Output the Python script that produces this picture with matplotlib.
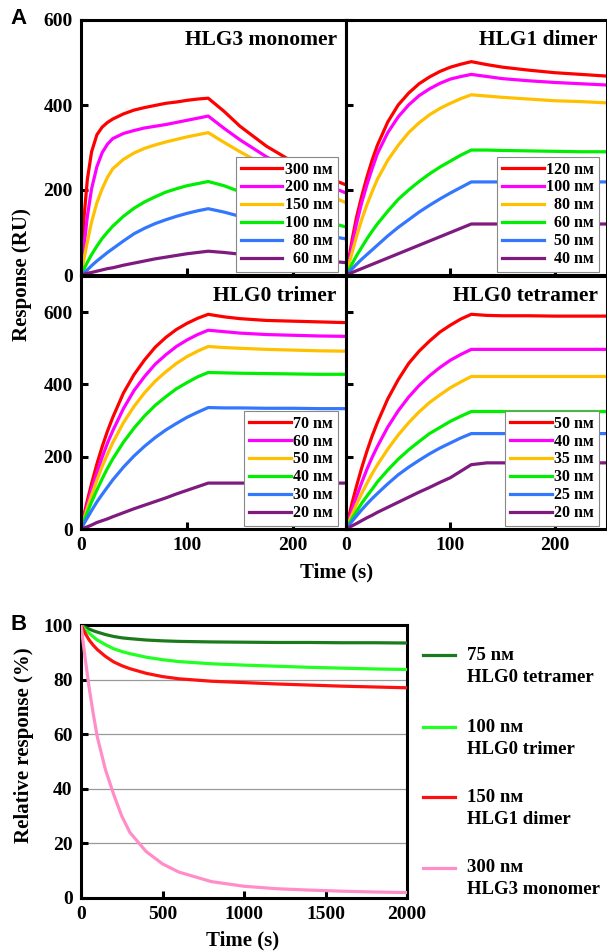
import matplotlib
matplotlib.use("Agg")
import matplotlib.pyplot as plt
from matplotlib.lines import Line2D

plt.rcParams['font.family'] = ['Liberation Serif', 'DejaVu Serif']
plt.rcParams['font.weight'] = 'bold'

# ---- panel A data: time grid (s) and responses (RU) ----
t_a = [0, 3, 6, 10, 15, 20, 25, 30, 40, 50, 60, 70, 80, 90, 100, 110, 120,
       135, 150, 175, 200, 225, 250]

colors_a = ['#ff0000', '#ff00ff', '#ffc000', '#00ee00', '#3377ff', '#7f1a7f']

hlg3_conc = ['300', '200', '150', '100', '  80', '  60']
hlg3 = [
    [0, 140, 225, 290, 330, 348, 359, 367, 379, 388, 394, 399, 404, 407, 411, 414, 416,
     385, 350, 303, 266, 237, 212],
    [0, 72, 138, 203, 255, 288, 308, 321, 333, 340, 346, 350, 354, 359, 364, 369, 374,
     345, 318, 278, 245, 218, 193],
    [0, 40, 78, 125, 170, 203, 230, 250, 272, 287, 298, 306, 313, 319, 325, 330, 335,
     312, 290, 256, 225, 197, 170],
    [0, 15, 30, 48, 68, 86, 101, 115, 138, 157, 172, 184, 195, 203, 210, 215, 220,
     210, 196, 172, 148, 130, 113],
    [0, 6, 12, 22, 33, 43, 53, 62, 80, 97, 110, 121, 130, 138, 145, 151, 156,
     148, 138, 122, 106, 95, 85],
    [0, 2, 4, 6, 9, 12, 15, 17, 23, 28, 33, 38, 42, 46, 50, 53, 56,
     53, 49, 44, 40, 35, 29],
]

hlg1_conc = ['120', '100', '  80', '  60', '  50', '  40']
hlg1 = [
    [0, 42, 85, 135, 185, 230, 270, 305, 360, 400, 428, 450, 466, 479, 489, 496, 502,
     495, 489, 482, 476, 472, 468],
    [0, 36, 72, 120, 170, 212, 250, 285, 335, 372, 400, 422, 438, 451, 461, 467, 472,
     467, 462, 457, 453, 450, 447],
    [0, 27, 54, 90, 130, 165, 196, 225, 270, 305, 335, 358, 377, 392, 404, 415, 424,
     421, 418, 414, 410, 408, 405],
    [0, 13, 27, 45, 65, 85, 103, 120, 150, 178, 200, 220, 238, 254, 268, 282, 294,
     294, 293, 292, 291, 290, 290],
    [0, 7, 15, 25, 37, 48, 59, 70, 92, 112, 130, 148, 164, 179, 193, 206, 219,
     219, 219, 219, 219, 219, 219],
    [0, 3, 6, 10, 15, 20, 25, 30, 40, 50, 60, 70, 80, 90, 100, 110, 120,
     120, 120, 120, 120, 120, 120],
]

trimer_conc = ['70', '60', '50', '40', '30', '20']
trimer = [
    [0, 41, 79, 126, 180, 228, 271, 309, 376, 427, 468, 503, 530, 552, 569, 583, 594,
     587, 582, 577, 575, 573, 571],
    [0, 35, 68, 110, 156, 199, 238, 272, 333, 383, 422, 456, 482, 505, 523, 538, 550,
     546, 542, 538, 536, 534, 533],
    [0, 30, 58, 94, 135, 173, 207, 239, 294, 339, 377, 409, 435, 458, 477, 492, 505,
     502, 500, 497, 495, 493, 492],
    [0, 24, 46, 75, 108, 139, 168, 194, 240, 279, 313, 342, 366, 388, 405, 421, 433,
     432, 431, 430, 429, 428, 428],
    [0, 16, 31, 51, 75, 96, 116, 136, 171, 202, 229, 253, 274, 292, 309, 323, 336,
     335, 335, 334, 334, 333, 333],
    [0, 3, 6, 11, 18, 23, 28, 34, 45, 56, 66, 76, 86, 97, 107, 117, 127,
     127, 127, 127, 127, 127, 127],
]

tetramer_conc = ['50', '40', '35', '30', '25', '20']
tetramer = [
    [0, 38, 74, 118, 169, 215, 257, 294, 360, 413, 458, 492, 520, 545, 564, 581, 594,
     591, 590, 590, 589, 589, 589],
    [0, 28, 55, 89, 128, 165, 198, 228, 282, 327, 365, 397, 424, 447, 467, 483, 497,
     497, 497, 497, 497, 497, 497],
    [0, 21, 41, 68, 98, 126, 153, 177, 221, 260, 294, 324, 350, 371, 391, 407, 422,
     422, 422, 422, 422, 422, 422],
    [0, 15, 30, 48, 71, 91, 110, 130, 163, 193, 219, 242, 264, 281, 298, 312, 325,
     325, 325, 325, 325, 325, 325],
    [0, 11, 22, 36, 53, 69, 84, 98, 125, 150, 171, 190, 208, 224, 238, 252, 264,
     264, 264, 264, 264, 264, 264],
    [0, 5, 9, 15, 23, 31, 38, 46, 60, 74, 88, 102, 115, 129, 142, 160, 178,
     183, 183, 183, 183, 183, 183],
]

titles_a = ['HLG3 monomer', 'HLG1 dimer', 'HLG0 trimer', 'HLG0 tetramer']

# ---- panel B data: relative response (%) ----
t_b = [0, 25, 50, 75, 100, 150, 200, 250, 300, 400, 500, 600, 800, 1000, 1200, 1400, 1600, 1800, 2000]
rel_tetramer = [100, 99.2, 98.5, 97.9, 97.4, 96.5, 95.8, 95.3, 95.0, 94.5, 94.2, 94.0, 93.8, 93.7, 93.6,
                93.6, 93.5, 93.5, 93.4]
rel_trimer = [100, 98.4, 97.0, 95.7, 94.5, 92.8, 91.3, 90.3, 89.5, 88.2, 87.3, 86.6, 85.8, 85.3, 84.9,
              84.5, 84.2, 83.9, 83.7]
rel_dimer = [100, 97.0, 94.5, 92.6, 91.0, 88.5, 86.5, 85.1, 84.0, 82.3, 81.1, 80.3, 79.4, 78.9, 78.4,
             78.0, 77.6, 77.3, 77.0]
rel_monomer = [100, 88, 77, 67.5, 59, 47, 38, 30, 24, 17, 12.5, 9.5, 6, 4.3, 3.4, 2.9, 2.5, 2.2, 2.0]
labels_b = [('75 nᴍ', 'HLG0 tetramer'), ('100 nᴍ', 'HLG0 trimer'),
            ('150 nᴍ', 'HLG1 dimer'), ('300 nᴍ', 'HLG3 monomer')]
colors_b = ['#1b7a1b', '#22ff22', '#ff1010', '#ff8ec8']

W, H = 607, 951
fig = plt.figure(figsize=(W / 100, H / 100), dpi=100)


def fig_rect(x0, y0, x1, y1):
    return [x0 / W, 1 - y1 / H, (x1 - x0) / W, (y1 - y0) / H]


def style_axes(ax):
    for sp in ax.spines.values():
        sp.set_linewidth(2.2)
    ax.tick_params(direction='in', width=2.2, length=5, labelsize=14, pad=6)
    for lab in ax.get_xticklabels() + ax.get_yticklabels():
        lab.set_fontweight('bold')


rects = [fig_rect(81, 20, 346, 275), fig_rect(346, 20, 607, 275),
         fig_rect(81, 276, 346, 529), fig_rect(346, 276, 607, 529)]
datasets = [(hlg3, hlg3_conc), (hlg1, hlg1_conc), (trimer, trimer_conc), (tetramer, tetramer_conc)]
ylims = [600, 600, 700, 700]

for i, (rect, (series, conc)) in enumerate(zip(rects, datasets)):
    ax = fig.add_axes(rect)
    for vals, c, lab in zip(series, colors_a, conc):
        ax.plot(t_a, vals, color=c, lw=2.3, label=f'{lab} nᴍ', solid_joinstyle='round')
    ax.set_xlim(0, 250)
    ax.set_ylim(0, ylims[i])
    ax.set_xticks([0, 100, 200])
    ax.set_yticks([0, 200, 400, 600])
    if i < 2:
        ax.set_xticklabels([])
    if i % 2 == 1:
        ax.set_yticklabels([])
    style_axes(ax)
    ax.text(0.965, 0.96, titles_a[i], transform=ax.transAxes, ha='right', va='top',
            fontsize=15.5, fontweight='bold')
    leg = ax.legend(loc='lower right', bbox_to_anchor=(0.968, 0.012), fontsize=11.5,
                    handlelength=2.6, handletextpad=0.15, labelspacing=0.12, borderpad=0.3,
                    fancybox=False, framealpha=1, edgecolor='#888888', borderaxespad=0)
    leg.get_frame().set_linewidth(0.8)
    for tx in leg.get_texts():
        tx.set_fontweight('bold')

fig.text(22 / W, 1 - 275 / H, 'Response (RU)', rotation=90, ha='center', va='center',
         fontsize=15, fontweight='bold')
fig.text(337 / W, 1 - 572 / H, 'Time (s)', ha='center', va='center', fontsize=15, fontweight='bold')

# ---- panel B ----
axb = fig.add_axes(fig_rect(81, 625, 407, 898))
for vals, c in zip([rel_tetramer, rel_trimer, rel_dimer, rel_monomer], colors_b):
    axb.plot(t_b, vals, color=c, lw=2.3, zorder=3, solid_joinstyle='round')
axb.set_xlim(0, 2000)
axb.set_ylim(0, 100)
axb.set_xticks([0, 500, 1000, 1500, 2000])
axb.set_yticks([0, 20, 40, 60, 80, 100])
for g in [20, 40, 60, 80]:
    axb.axhline(g, color='#999999', lw=0.9, zorder=1)
style_axes(axb)
fig.text(243 / W, 1 - 940 / H, 'Time (s)', ha='center', va='center', fontsize=15, fontweight='bold')
fig.text(24 / W, 1 - 745 / H, 'Relative response (%)', rotation=90, ha='center', va='center',
         fontsize=15, fontweight='bold')

leg_y = [655, 727, 797, 868]
for (l1, l2), c, y in zip(labels_b, colors_b, leg_y):
    fig.add_artist(Line2D([423 / W, 455 / W], [1 - y / H, 1 - y / H], color=c, lw=2.3))
    fig.text(467 / W, 1 - y / H, l1, ha='left', va='center', fontsize=13.5, fontweight='bold')
    fig.text(467 / W, 1 - (y + 22) / H, l2, ha='left', va='center', fontsize=13.5, fontweight='bold')

fig.text(10 / W, 1 - 18 / H, 'A', family='Liberation Sans', fontsize=16, fontweight='bold',
         ha='left', va='center')
fig.text(10 / W, 1 - 625 / H, 'B', family='Liberation Sans', fontsize=16, fontweight='bold',
         ha='left', va='center')

fig.savefig('out.png', dpi=100)
